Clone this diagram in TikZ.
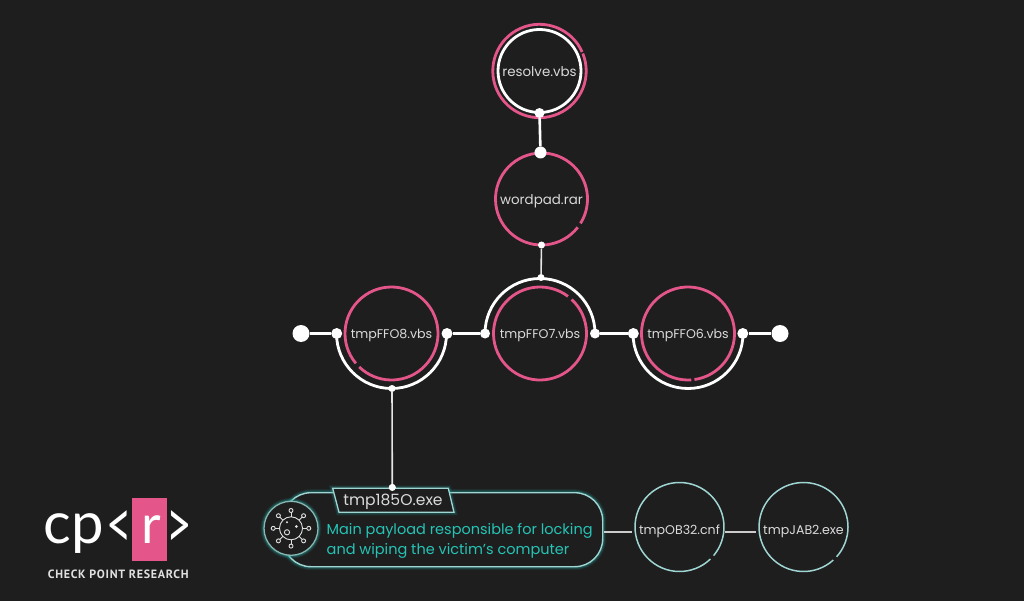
\documentclass[tikz,border=0pt]{standalone}
\usepackage{fontspec}
\setmainfont{Poppins}
\newfontfamily\logofont{Lato}
\newfontfamily\capsfont{PT Sans}[UprightFont={* Bold}]
\definecolor{bgdark}{HTML}{1E1E1E}
\definecolor{pinkc}{HTML}{E4558A}
\definecolor{paletl}{HTML}{9FD6D3}
\definecolor{tealtext}{HTML}{25C4B6}
\definecolor{glowc}{HTML}{1FA8A0}
\definecolor{lbl}{HTML}{DADADA}
\usetikzlibrary{calc}
\tikzset{
 fname/.style={text=lbl,font=\fontsize{12.6}{15}\selectfont,inner sep=0pt,circle,minimum size=88pt,text depth=0pt,text height=#1},
 fname/.default=9pt,
 pinkring/.style={draw=pinkc,line width=2.8pt},
 whitering/.style={draw=white,line width=2.8pt},
 paler/.style={draw=paletl,line width=1.5pt},
 dotw/.style={circle,fill=white,inner sep=0pt,minimum size=#1},
 link/.style={draw=white,line width=2.6pt},
 thin link/.style={draw=white!90!black,line width=1.6pt},
 gray link/.style={draw=white!80!black,line width=2pt,shorten <=1pt,shorten >=3pt},
 icon line/.style={draw=white!88!black,line width=.9pt},
}
\begin{document}
\begin{tikzpicture}[x=1pt,y=-1pt]
\useasboundingbox (0,0) rectangle (1024,601);
\fill[bgdark] (0,0) rectangle (1024,601);

% circle labels
\node[fname=11pt,font=\fontsize{13.4}{15}\selectfont] (res) at (539.5,71) {resolve.vbs};
\node[fname=11pt,font=\fontsize{13.4}{15}\selectfont] (wp) at (541.5,199) {wordpad.rar};
\node[fname] (f8) at (391.5,333.5) {tmpFFO8.vbs};
\node[fname] (f7) at (540,333.5) {tmpFFO7.vbs};
\node[fname] (f6) at (688,333.5) {tmpFFO6.vbs};
\node[fname=14pt] (ob) at (679.5,527) {tmpOB32.cnf};
\node[fname=14pt] (jab) at (803.5,527) {tmpJAB2.exe};

% rings
\draw[pinkring] (res) ++(24:46.7pt) arc[start angle=24,end angle=382,radius=46.7pt];
\draw[whitering] (res) circle[radius=41.5pt];
\draw[pinkring] (wp) ++(-38:46pt) arc[start angle=-38,end angle=-392,radius=46pt];
\draw[pinkring] (f8) ++(-140:46.5pt) arc[start angle=-140,end angle=-494,radius=46.5pt];
\draw[pinkring] (f7) ++(47:46.5pt) arc[start angle=47,end angle=-307,radius=46.5pt];
\draw[pinkring] (f6) ++(-86:46.5pt) arc[start angle=-86,end angle=-442,radius=46.5pt];
\draw[paler] (ob) ++(-46:44.5pt) arc[start angle=-46,end angle=-400,radius=44.5pt];
\draw[paler] (jab) ++(-48:44.5pt) arc[start angle=-48,end angle=-402,radius=44.5pt];

% white arcs
\draw[whitering] (f8) ++(180:55pt) arc[start angle=180,end angle=360,radius=55pt];
\draw[whitering] (f7) ++(180:55pt) arc[start angle=180,end angle=0,radius=55pt];
\draw[whitering] (f6) ++(180:55pt) arc[start angle=180,end angle=360,radius=55pt];

% dots
\node[dotw=10pt] (d1) at (539.5,113) {};
\node[dotw=12pt] (d2) at (540.5,152.5) {};
\node[dotw=7pt] (d3) at (541.5,245) {};
\node[dotw=7pt] (d4) at (541,277.5) {};
\node[dotw=17pt] (big1) at (301,333.5) {};
\node[dotw=11pt] (d5) at (336.7,333.5) {};
\node[dotw=11pt] (d6) at (447,333.5) {};
\node[dotw=10pt] (d7) at (485,333.5) {};
\node[dotw=10pt] (d8) at (595,333.5) {};
\node[dotw=11pt] (d9) at (633.3,333.5) {};
\node[dotw=11pt] (d10) at (742.8,333.5) {};
\node[dotw=17pt] (big2) at (780,333.5) {};
\node[dotw=7pt] (d11) at (392,388.5) {};
\node[dotw=7pt] (d12) at (392.3,487.5) {};

% connectors
\draw[link] (d1) -- (d2);
\draw[thin link] (d3) -- (d4);
\draw[link] (big1) -- (d5);
\draw[link] (d6) -- (d7);
\draw[link] (d8) -- (d9);
\draw[link] (d10) -- (big2);
\draw[thin link] (d11) -- (d12);

% payload box
\foreach \w/\o in {7/.10,5/.14,3.5/.22}{
  \draw[glowc,line width=\w pt,opacity=\o,rounded corners=28pt] (283,492.7) rectangle (602.7,566.7);
}
\node[draw=paletl,line width=1.4pt,rounded corners=28pt,fill=bgdark,minimum width=319.7pt,minimum height=74pt,inner sep=0pt] (pay) at (442.85,529.7) {};
\node[anchor=west,text=tealtext,font=\fontsize{14.5}{19.5}\selectfont,align=left,inner sep=0pt] (paytext) at (326.5,541) {Main payload responsible for locking\\and wiping the victim’s computer};

% tag
\foreach \w/\o in {6/.12,4/.2}{
  \draw[glowc,line width=\w pt,opacity=\o] (332.7,488.3) -- (448.3,488.3) -- (454,512.3) -- (339,512.3) -- cycle;
}
\draw[draw=paletl,line width=1.3pt,fill=bgdark] (332.7,488.3) -- (448.3,488.3) -- (454,512.3) -- (339,512.3) -- cycle;
\node[text=lbl,font=\fontsize{15.6}{18}\selectfont,inner sep=0pt] (tag) at (393,501.5) {tmp185O.exe};
\node[dotw=7pt] at (d12) {};

% icon
\foreach \w/\o in {7/.10,5/.16,3.5/.25}{
  \draw[glowc,line width=\w pt,opacity=\o] (291,528.3) circle[radius=27pt];
}
\node[circle,draw=paletl!85!black,line width=1.3pt,fill=bgdark,minimum size=54pt,inner sep=0pt] (virus) at (291,528.3) {};
\draw[icon line] (virus) circle[radius=11.5pt];
\foreach \a in {0,45,...,315}{
  \draw[icon line] (virus) ++(\a:11.5pt) -- ++(\a:4.5pt);
  \draw[icon line] (virus) ++(\a:17.8pt) circle[radius=2pt];
}
\draw[icon line] ($(virus)+(-4pt,-4pt)$) circle[radius=2.6pt];
\fill[white!88!black] ($(virus)+(-4pt,6pt)$) circle[radius=1.1pt];
\fill[white!88!black] ($(virus)+(5.3pt,1.8pt)$) circle[radius=1.5pt];

% connectors to right circles
\draw[gray link] ([yshift=-1.8pt]pay.east) -- ([yshift=-4.5pt]ob.west);
\draw[gray link] ([yshift=-4.5pt]ob.east) -- ([yshift=-4.5pt]jab.west);

% logo
\fill[pinkc] (132.3,497.7) rectangle (166.7,561);
\node[text=white,font=\logofont\fontsize{58}{58}\selectfont,inner sep=0pt,anchor=base west] (cp) at (43.5,543.5) {cp};
\node[text=white,font=\logofont\fontsize{54}{54}\selectfont,inner sep=0pt,anchor=base] (rr) at (151.5,543.5) {r};
\node[text=white,font=\logofont\fontsize{44}{44}\selectfont,inner sep=0pt] (lt) at (118.8,530) {\scalebox{1}[1.55]{<}};
\node[text=white,font=\logofont\fontsize{44}{44}\selectfont,inner sep=0pt] (gt) at (179.7,530) {\scalebox{1}[1.55]{>}};
\node[text=white!88!black,font=\capsfont\fontsize{12}{12}\selectfont,inner sep=0pt,anchor=base] (cpr) at (118.3,578.6) {\addfontfeature{LetterSpace=6}CHECK POINT RESEARCH};
\end{tikzpicture}
\end{document}
